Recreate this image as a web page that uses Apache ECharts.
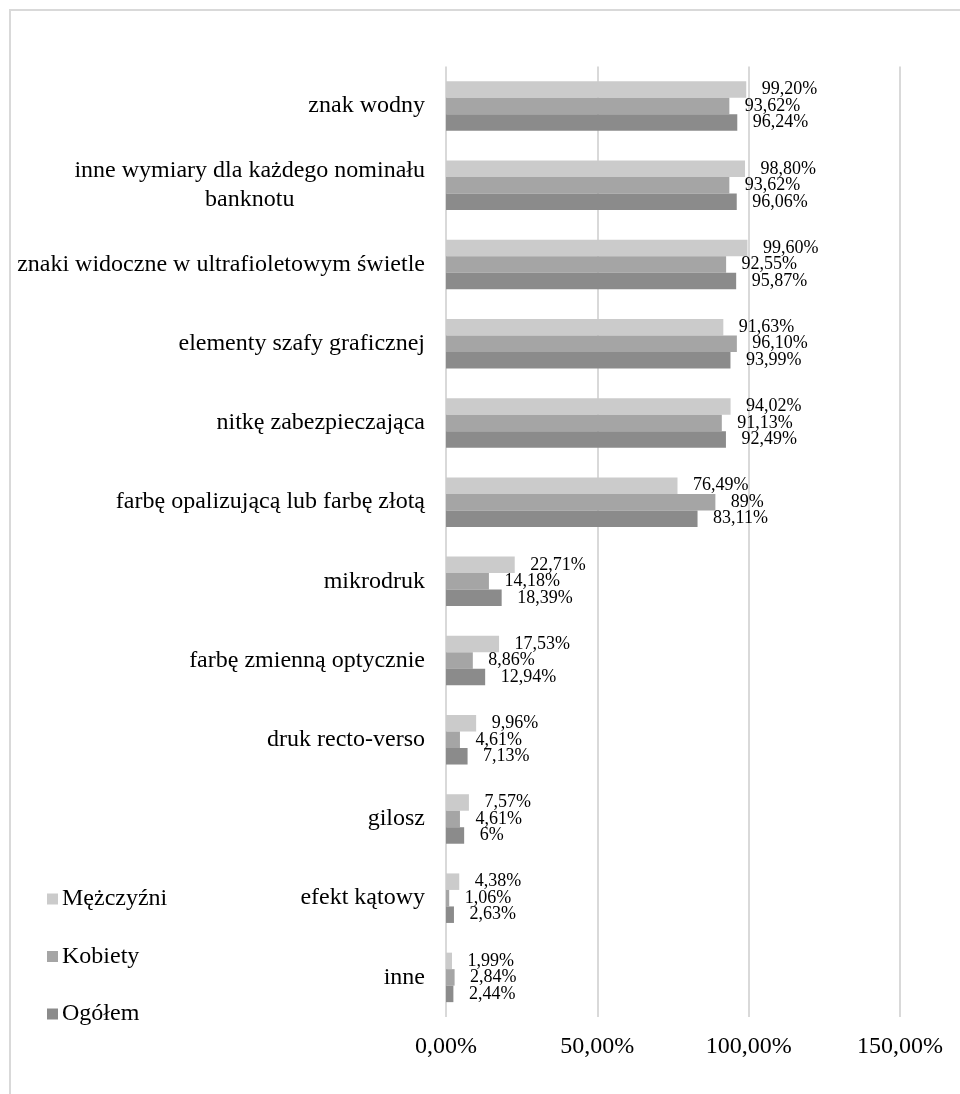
<!DOCTYPE html>
<html>
<head>
<meta charset="utf-8">
<style>
  html, body { margin: 0; padding: 0; background: #fff; }
  #chart { width: 960px; height: 1094px; }
</style>
<script src="https://cdn.jsdelivr.net/npm/echarts@6/dist/echarts.min.js"></script>
</head>
<body>
<div id="chart"></div>
<script>
// Security features of banknotes recognised by respondents (%)
const categories = [
  'znak wodny',
  'inne wymiary dla każdego nominału\nbanknotu',
  'znaki widoczne w ultrafioletowym świetle',
  'elementy szafy graficznej',
  'nitkę zabezpieczająca',
  'farbę opalizującą lub farbę złotą',
  'mikrodruk',
  'farbę zmienną optycznie',
  'druk recto-verso',
  'gilosz',
  'efekt kątowy',
  'inne'
];
const seriesNames = ['Mężczyźni', 'Kobiety', 'Ogółem'];
const men   = [99.20, 98.80, 99.60, 91.63, 94.02, 76.49, 22.71, 17.53, 9.96, 7.57, 4.38, 1.99];
const women = [93.62, 93.62, 92.55, 96.10, 91.13, 89, 14.18, 8.86, 4.61, 4.61, 1.06, 2.84];
const total = [96.24, 96.06, 95.87, 93.99, 92.49, 83.11, 18.39, 12.94, 7.13, 6, 2.63, 2.44];
const axisTicks = [0, 50, 100, 150];

const FONT = '"Liberation Serif", "Times New Roman", serif';
const colors = ['#cbcbcb', '#a5a5a5', '#8b8b8b'];

function pct(v) {
  const s = Number.isInteger(v) ? String(v) : v.toFixed(2).replace('.', ',');
  return s + '%';
}

function makeSeries(name, values, color) {
  return {
    name: name,
    type: 'bar',
    data: values,
    barGap: '0%',
    barCategoryGap: '37.5%',
    itemStyle: { color: color },
    label: {
      show: true,
      position: 'right',
      distance: 15.5,
      color: '#000',
      fontFamily: FONT,
      fontSize: 18,
      formatter: p => pct(p.value)
    },
    emphasis: { disabled: true }
  };
}

const chart = echarts.init(document.getElementById('chart'), null, { renderer: 'canvas' });
chart.setOption({
  animation: false,
  backgroundColor: '#fff',
  color: colors,
  graphic: [{
    type: 'rect',
    shape: { x: 10, y: 10, width: 1000, height: 1200 },
    style: { fill: 'none', stroke: '#d9d9d9', lineWidth: 2 },
    silent: true
  }],
  legend: {
    orient: 'vertical',
    left: 47,
    top: 887,
    padding: 0,
    itemWidth: 11,
    itemHeight: 11,
    itemGap: 33.5,
    icon: 'rect',
    data: seriesNames,
    textStyle: { fontFamily: FONT, fontSize: 24, color: '#000', lineHeight: 24, padding: [0, 0, 0, -1] },
    selectedMode: false
  },
  grid: { left: 446, right: 60, top: 66.5, bottom: 77, containLabel: false },
  xAxis: {
    type: 'value',
    min: axisTicks[0],
    max: axisTicks[axisTicks.length - 1],
    interval: 50,
    axisLine: { show: false },
    axisTick: { show: false },
    splitLine: { show: true, lineStyle: { color: '#d9d9d9', width: 2 } },
    axisLabel: {
      margin: 18,
      color: '#000',
      fontFamily: FONT,
      fontSize: 24,
      formatter: v => v.toFixed(2).replace('.', ',') + '%'
    }
  },
  yAxis: {
    type: 'category',
    inverse: true,
    data: categories,
    axisLine: { show: false },
    axisTick: { show: false },
    axisLabel: {
      margin: 21,
      color: '#000',
      fontFamily: FONT,
      fontSize: 24,
      formatter: v => v.split('\n').map(l => '{c|' + l + '}').join('\n'),
      rich: {
        c: { fontFamily: FONT, fontSize: 24, lineHeight: 29, color: '#000', align: 'center' }
      }
    }
  },
  series: [
    makeSeries(seriesNames[0], men, colors[0]),
    makeSeries(seriesNames[1], women, colors[1]),
    makeSeries(seriesNames[2], total, colors[2])
  ]
});
</script>
</body>
</html>
